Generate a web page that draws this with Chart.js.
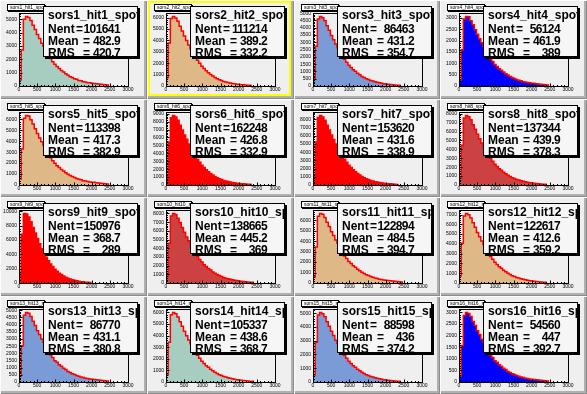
<!DOCTYPE html>
<html>
<head>
<meta charset="utf-8">
<title>sors hit spot</title>
<script src="https://cdn.jsdelivr.net/npm/chart.js@4.4.1/dist/chart.umd.min.js"></script>
<style>
  html, body { margin: 0; padding: 0; }
  body { width: 587px; height: 394px; position: relative; overflow: hidden; background: #c8c8c8; }
  .pad { position: absolute; background: #efefef; box-shadow: inset 1px 1px 0 #fdfdfd, inset -1px -1px 0 #8c8c8c, inset -3px -3px 0 #b0b0b0; }
  .pad canvas { position: absolute; left: 0; top: 0; }
  .selbox { position: absolute; left: 1px; top: 1px; box-sizing: border-box; border: 2px solid #ffff00; pointer-events: none; }
  .htitle { position: absolute; left: 7px; top: 4px; width: 38px; height: 7px; box-sizing: border-box;
            background: #fff; border: 1px solid #000; box-shadow: 1px 1px 0 #000; overflow: hidden;
            font: 5px "Liberation Sans", Arial, sans-serif; line-height: 5px; padding-left: 2px; white-space: nowrap; }
  .stats { position: absolute; left: 43px; top: 6px; width: 95px; height: 51px; box-sizing: border-box;
           background: #f6f6f6; border: 1px solid #000; box-shadow: 2px 2px 0 #000; overflow: hidden;
           font: bold 12px "Liberation Sans", Arial, sans-serif; color: #000; }
  .stats span { position: absolute; line-height: 12px; white-space: nowrap; }
  .stats .num { letter-spacing: -0.6px; }
</style>
</head>
<body>
<script>
// ============================================
//  DATA
// ============================================
const binWidth = 60;
const xTicks = [0, 500, 1000, 1500, 2000, 2500, 3000];

const names = ['sors1_hit1_spot3', 'sors2_hit2_spot3', 'sors3_hit3_spot4', 'sors4_hit4_spot6',
               'sors5_hit5_spot7', 'sors6_hit6_spot6', 'sors7_hit7_spot8', 'sors8_hit8_spot7',
               'sors9_hit9_spot3', 'sors10_hit10_spot3', 'sors11_hit11_spot3', 'sors12_hit12_spot3',
               'sors13_hit13_spot3', 'sors14_hit14_spot3', 'sors15_hit15_spot3', 'sors16_hit16_spot3'];
const nent = [101641, 111214, 86463, 56124, 113398, 162248, 153620, 137344,
              150976, 138665, 122894, 122617, 86770, 105337, 88598, 54560];
const means = [482.9, 389.2, 431.2, 461.9, 417.3, 426.8, 431.6, 439.9,
               368.7, 445.2, 484.5, 412.6, 431.1, 438.6, 436, 447];
const rmss = [420.7, 332.2, 354.7, 389, 382.9, 332.9, 338.9, 378.3,
              289, 369, 394.7, 359.2, 380.8, 368.7, 374.2, 392.7];
const yMax = [5460, 6400, 5010, 3220, 6670, 9210, 8900, 8190,
              10190, 8400, 6980, 7460, 5090, 6300, 5300, 3150];
const yStep = [1000, 1000, 500, 500, 1000, 1000, 1000, 1000,
               2000, 1000, 1000, 1000, 500, 1000, 1000, 500];

const h1 = [450,2700,4990,5200,5130,4900,4550,4230,3850,3560,3200,2970,2610,2330,2050,1810,1620,1450,1310,1160,1050,910,810,700,640,550,500,420,390,320,300,250,240,200,195,160,155,125,120,95,80];
const h2 = [730,3780,5920,6100,5960,5680,5230,4830,4380,4000,3590,3240,2860,2540,2250,1990,1730,1530,1335,1165,1000,870,740,645,545,474,400,350,296,258,218,190,156,136,114,99,78,68,55];
const h3 = [480,2720,4600,4770,4690,4470,4140,3830,3470,3180,2880,2630,2330,2080,1830,1630,1420,1270,1115,1010,875,770,660,590,500,450,378,338,288,256,216,194,160,140,117,102,84,73,56,48];
const h4 = [270,1600,2950,3070,3050,2880,2700,2480,2280,2080,1910,1740,1540,1390,1190,1080,950,865,760,695,615,540,480,415,375,330,290,250,228,190,175,150,138,120,116,98,90,75,70,56,46];
const h5 = [550,3300,6100,6350,6300,5960,5570,5130,4710,4300,3950,3610,3190,2850,2490,2210,1980,1770,1600,1420,1280,1110,990,860,775,680,600,520,470,395,360,315,285,250,240,205,188,155,145,118,95];
const h6 = [1050,5440,8500,8770,8580,8170,7530,6940,6300,5760,5160,4660,4110,3650,3230,2860,2490,2200,1920,1675,1440,1250,1065,925,785,680,575,505,426,372,312,275,225,196,164,142,112,98,79];
const h7 = [1020,5250,8230,8475,8290,7890,7280,6710,6090,5560,4990,4500,3970,3525,3125,2765,2405,2125,1855,1620,1390,1210,1028,895,758,658,555,487,410,360,300,266,216,190,158,138,108,95,76];
const h8 = [780,4450,7530,7800,7670,7310,6770,6250,5680,5200,4700,4300,3810,3400,2990,2660,2330,2075,1825,1645,1435,1255,1085,960,820,730,618,550,470,418,352,316,260,230,190,168,136,120,90,78];
const h9 = [1460,6790,9700,9620,9200,8550,7750,6990,6200,5490,4790,4180,3580,3110,2660,2290,1930,1655,1370,1170,965,810,665,556,452,372,298,246,190,158,114,89,68];
const h10 = [800,4570,7710,8000,7890,7460,6970,6390,5850,5300,4850,4390,3930,3470,3090,2710,2410,2110,1890,1670,1490,1275,1125,970,855,740,645,555,492,420,372,316,276,228,204,165,146,118,98,80];
const h11 = [580,3450,6390,6650,6570,6260,5800,5400,4900,4540,4110,3800,3310,3000,2580,2340,2050,1870,1650,1500,1320,1180,1020,915,800,720,620,555,480,425,365,335,290,270,240,222,190,168,142,128,100];
const h12 = [710,4050,6850,7100,6980,6650,6160,5690,5170,4730,4290,3910,3470,3100,2720,2420,2120,1890,1660,1500,1305,1140,990,870,748,664,565,500,430,380,324,288,238,210,175,152,126,109,84,71];
const h13 = [420,2520,4660,4850,4790,4570,4230,3940,3580,3310,2990,2780,2410,2190,1880,1710,1490,1370,1200,1100,960,865,740,670,580,530,450,408,350,310,268,246,210,198,175,162,138,124,104,94,73];
const h14 = [600,3420,5800,6000,5900,5620,5210,4810,4370,4000,3620,3310,2930,2620,2300,2050,1790,1600,1400,1265,1100,965,835,735,632,560,476,424,362,320,272,244,200,178,146,128,106,92,70,60];
const h15 = [505,2880,4870,5050,4960,4730,4380,4050,3680,3370,3040,2790,2470,2200,1930,1725,1505,1345,1180,1070,925,815,700,620,530,474,400,358,304,270,228,205,168,150,122,108,88,78,60,51];
const h16 = [260,1570,2870,3000,2960,2830,2610,2440,2210,2050,1850,1720,1490,1360,1160,1060,920,850,740,680,595,535,455,415,360,328,278,252,215,192,165,152,130,122,108,100,85,77,64,58,45];
const counts = [h1, h2, h3, h4, h5, h6, h7, h8, h9, h10, h11, h12, h13, h14, h15, h16];

// ============================================
//  STYLE
// ============================================
const TEAL = '#a6cdbf', TAN = '#deb887', CORN = '#7b9bd6', BLUE = '#0000ff', RED = '#ff0000', DKRED = '#cc4242';
const fills = [TEAL, TAN, CORN, BLUE, TAN, RED, RED, DKRED, RED, DKRED, TAN, TAN, CORN, TEAL, CORN, BLUE];

const FRAME = { left: 19, right: 128, top: 13, bottom: 86 };
const tickFont = { family: 'Liberation Sans', size: 5 };
const fmt = v => String(Number(v.toPrecision(4)));

// frame box + inward ticks, drawn on top like ROOT axes
const framePlugin = {
  id: 'frame',
  afterDatasetsDraw(chart, args, opts) {
    const { ctx, chartArea: a, scales: { x, y } } = chart;
    const L = Math.round(a.left) + 0.5, R = Math.round(a.right) + 0.5;
    const T = Math.round(a.top) + 0.5, B = Math.round(a.bottom) + 0.5;
    ctx.save();
    ctx.strokeStyle = '#000';
    ctx.lineWidth = 1;
    ctx.strokeRect(L, T, R - L, B - T);
    ctx.beginPath();
    const ys = opts.step;
    for (let k = 0; k * ys / 5 <= y.max; k++) {
      const py = Math.round(y.getPixelForValue(k * ys / 5)) + 0.5;
      const len = (k % 5 === 0) ? 3 : 1.5;
      ctx.moveTo(L, py); ctx.lineTo(L + len, py);
    }
    for (let v = 0; v <= x.max; v += 100) {
      const px = Math.round(x.getPixelForValue(v)) + 0.5;
      const len = (v % 500 === 0) ? 3 : 1.5;
      ctx.moveTo(px, B); ctx.lineTo(px, B - len);
    }
    ctx.stroke();
    ctx.restore();
  }
};

// ============================================
//  PADS
// ============================================
const PAD_W = 587 / 4, PAD_H = 394 / 4;

counts.forEach((vals, i) => {
  const col = i % 4, row = Math.floor(i / 4);
  const left = Math.round(col * PAD_W), top = Math.round(row * PAD_H);
  const w = Math.round((col + 1) * PAD_W) - left;
  const h = Math.round((row + 1) * PAD_H) - top;

  const pad = document.createElement('div');
  pad.className = 'pad';
  pad.style.left = left + 'px';
  pad.style.top = top + 'px';
  pad.style.width = w + 'px';
  pad.style.height = h + 'px';
  document.body.appendChild(pad);

  const cv = document.createElement('canvas');
  cv.width = w; cv.height = h;
  pad.appendChild(cv);

  // histogram outline: left edges of each bin, then the closing right edge
  const pts = [{ x: 0, y: 0 }];
  vals.forEach((v, k) => pts.push({ x: k * binWidth, y: v }));
  pts.push({ x: vals.length * binWidth, y: 0 });

  const yTickVals = [];
  for (let v = 0; v <= yMax[i]; v += yStep[i]) yTickVals.push(v);

  new Chart(cv, {
    type: 'line',
    data: {
      datasets: [{
        data: pts,
        stepped: 'before',
        fill: 'origin',
        backgroundColor: fills[i],
        borderColor: RED,
        borderWidth: 1.5,
        pointRadius: 0
      }]
    },
    options: {
      responsive: false,
      animation: false,
      events: [],
      layout: { padding: { left: 0, top: FRAME.top, right: w - FRAME.right, bottom: 0 } },
      plugins: { legend: { display: false }, tooltip: { enabled: false }, frame: { step: yStep[i] } },
      scales: {
        x: {
          type: 'linear', min: 0, max: 3000,
          grid: { display: false, drawTicks: false },
          border: { display: false },
          afterBuildTicks: s => { s.ticks = xTicks.map(v => ({ value: v })); },
          ticks: { font: tickFont, color: '#000', padding: 1, maxRotation: 0, autoSkip: false,
                   callback: v => String(v) },
          afterFit: s => { s.height = h - FRAME.bottom; s.paddingLeft = 0; s.paddingRight = 0; }
        },
        y: {
          min: 0, max: yMax[i],
          grid: { display: false, drawTicks: false },
          border: { display: false },
          afterBuildTicks: s => { s.ticks = yTickVals.map(v => ({ value: v })); },
          ticks: { font: tickFont, color: '#000', padding: 2, autoSkip: false,
                   callback: v => String(v) },
          afterFit: s => { s.width = FRAME.left; s.paddingTop = 0; s.paddingBottom = 0; }
        }
      }
    },
    plugins: [framePlugin]
  });

  if (i === 1) {
    const sel = document.createElement('div');
    sel.className = 'selbox';
    sel.style.width = (w - 4) + 'px';
    sel.style.height = (h - 4) + 'px';
    pad.appendChild(sel);
  }

  // histogram title box
  const ht = document.createElement('div');
  ht.className = 'htitle';
  ht.textContent = names[i];
  pad.appendChild(ht);

  // stats box
  const st = document.createElement('div');
  st.className = 'stats';
  const add = (text, css, cls) => {
    const s = document.createElement('span');
    s.textContent = text;
    if (cls) s.className = cls;
    Object.assign(s.style, css);
    st.appendChild(s);
  };
  add(names[i], { left: '4px', top: '2px' });
  add('Nent', { left: '4px', top: '16px' });
  add('=', { left: '32px', top: '16px' });
  add(String(nent[i]), { right: '17px', top: '16px' }, 'num');
  add('Mean', { left: '4px', top: '28px' });
  add('=', { left: '39px', top: '28px' });
  add(fmt(means[i]), { right: '17px', top: '28px' }, 'num');
  add('RMS', { left: '4px', top: '40px' });
  add('=', { left: '39px', top: '40px' });
  add(fmt(rmss[i]), { right: '17px', top: '40px' }, 'num');
  pad.appendChild(st);
});
</script>
</body>
</html>
